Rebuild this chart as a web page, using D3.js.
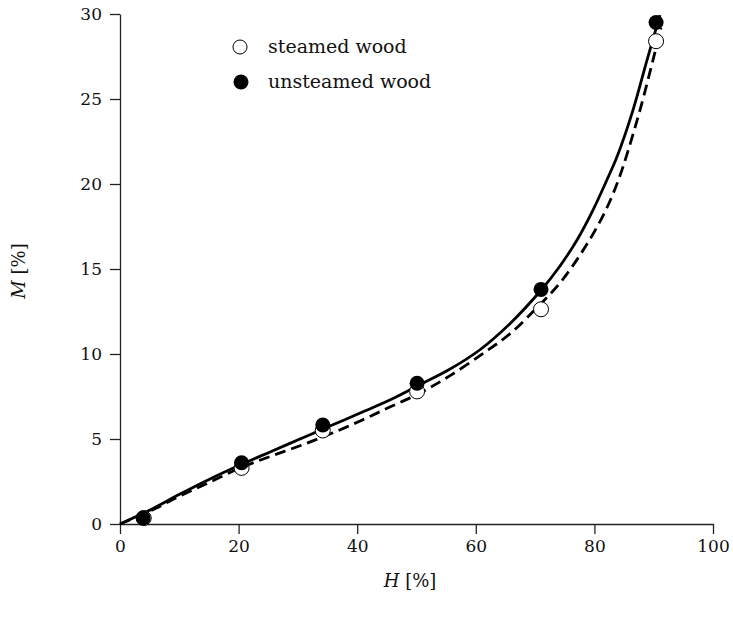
<!DOCTYPE html>
<html>
<head>
<meta charset="utf-8">
<script src="https://cdn.jsdelivr.net/npm/d3@7"></script>
<style>
  body { margin: 0; background: #fff; }
  svg text { font-family: "DejaVu Serif", "Liberation Serif", serif; fill: #111; }
</style>
</head>
<body>
<svg id="chart" width="733" height="621"></svg>
<script>
// ---- data ----
const xTicks = [0, 20, 40, 60, 80, 100];
const yTicks = [0, 5, 10, 15, 20, 25, 30];

const steamedH = [4, 20.5, 34.2, 50.1, 71.0, 90.4];
const steamedM = [0.35, 3.3, 5.5, 7.8, 12.63, 28.4];

const unsteamedH = [3.9, 20.5, 34.2, 50.1, 71.0, 90.4];
const unsteamedM = [0.35, 3.6, 5.82, 8.28, 13.8, 29.5];

// fitted curve for unsteamed wood (solid)
const fitUnsteamedH = [0, 5.06, 10.12, 15.18, 20.24, 25.3, 30.35, 35.4, 40.5, 45.5, 50.6, 55.6, 60.7, 65.8, 71.0, 74.2, 77.07, 79.76, 82.12, 83.81, 86.51, 88.87, 91.06];
const fitUnsteamedM = [0, 0.82, 1.76, 2.65, 3.47, 4.24, 5.0, 5.76, 6.53, 7.29, 8.2, 9.1, 10.25, 11.8, 13.75, 15.18, 16.71, 18.47, 20.25, 21.6, 24.35, 27.29, 29.94];

// fitted curve for steamed wood (dashed)
const fitSteamedH = [0, 5.06, 10.12, 15.18, 20.24, 25.3, 30.35, 35.4, 40.5, 45.5, 50.6, 55.6, 61.6, 65.8, 70.8, 74.2, 77.57, 80.44, 82.63, 84.32, 85.67, 87.69, 89.88, 91.23];
const fitSteamedM = [0, 0.76, 1.65, 2.47, 3.29, 3.97, 4.6, 5.29, 6.06, 6.88, 7.71, 8.71, 10.12, 11.2, 12.9, 14.18, 15.82, 17.47, 19.0, 20.5, 21.95, 24.35, 27.29, 29.18];

const legendLabels = ["steamed wood", "unsteamed wood"];

// ---- drawing ----
const svg = d3.select("#chart");
const x = d3.scaleLinear().domain([0, 100]).range([120, 713]);
const y = d3.scaleLinear().domain([0, 30]).range([524, 14]);

const axisColor = "#222";

const gx = svg.append("g").attr("transform", "translate(0,524)")
  .call(d3.axisBottom(x).tickValues(xTicks).tickSize(10).tickSizeOuter(0).tickPadding(6));
const gy = svg.append("g").attr("transform", "translate(120,0)")
  .call(d3.axisLeft(y).tickValues(yTicks).tickSize(10).tickSizeOuter(0).tickPadding(8));

[gx, gy].forEach(g => {
  g.select(".domain").attr("stroke", axisColor).attr("stroke-width", 1.3);
  g.selectAll(".tick line").attr("stroke", axisColor).attr("stroke-width", 1.3);
  g.selectAll(".tick text").attr("font-family", "DejaVu Serif").attr("font-size", 17).attr("fill", "#111");
});

const line = d3.line().x(d => x(d[0])).y(d => y(d[1])).curve(d3.curveCatmullRom.alpha(0.5));

svg.append("path")
  .datum(fitUnsteamedH.map((h, i) => [h, fitUnsteamedM[i]]))
  .attr("d", line).attr("fill", "none").attr("stroke", "#000").attr("stroke-width", 2.8);

svg.append("path")
  .datum(fitSteamedH.map((h, i) => [h, fitSteamedM[i]]))
  .attr("d", line).attr("fill", "none").attr("stroke", "#000").attr("stroke-width", 2.8)
  .attr("stroke-dasharray", "11,6");

svg.append("g").selectAll("circle")
  .data(steamedH.map((h, i) => [h, steamedM[i]]))
  .join("circle")
  .attr("cx", d => x(d[0])).attr("cy", d => y(d[1])).attr("r", 7.5)
  .attr("fill", "#fff").attr("stroke", "#000").attr("stroke-width", 1);

svg.append("g").selectAll("circle")
  .data(unsteamedH.map((h, i) => [h, unsteamedM[i]]))
  .join("circle")
  .attr("cx", d => x(d[0])).attr("cy", d => y(d[1])).attr("r", 7.5)
  .attr("fill", "#000");

// legend
const legend = svg.append("g");
legend.append("circle").attr("cx", 240).attr("cy", 47).attr("r", 7)
  .attr("fill", "#fff").attr("stroke", "#000").attr("stroke-width", 1);
legend.append("circle").attr("cx", 241).attr("cy", 82).attr("r", 7.5).attr("fill", "#000");
legend.append("text").attr("x", 268).attr("y", 53).attr("font-size", 19).text(legendLabels[0]);
legend.append("text").attr("x", 268).attr("y", 88).attr("font-size", 19).text(legendLabels[1]);

// axis titles
const xt = svg.append("text").attr("x", 410).attr("y", 587).attr("text-anchor", "middle").attr("font-size", 18);
xt.append("tspan").attr("font-style", "italic").text("H");
xt.append("tspan").text(" [%]");

const yt = svg.append("text").attr("transform", "translate(25,271) rotate(-90)")
  .attr("text-anchor", "middle").attr("font-size", 18);
yt.append("tspan").attr("font-style", "italic").text("M");
yt.append("tspan").text(" [%]");
</script>
</body>
</html>
